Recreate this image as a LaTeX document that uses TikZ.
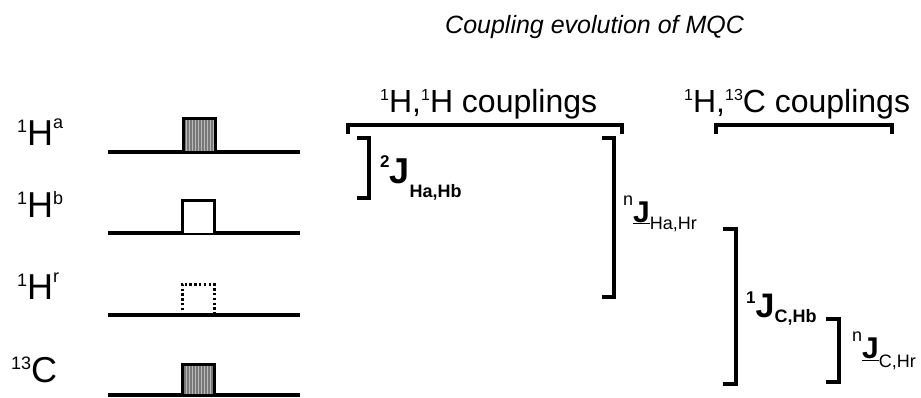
\documentclass[tikz,border=0pt]{standalone}
\usepackage{fontspec}
\usetikzlibrary{patterns}
\setmainfont{Liberation Sans}
% raised, reduced index (isotope numbers and spin labels)
\newcommand\upidx[2][0.36]{\raisebox{#1em}{\scalebox{0.5}{#2}}}
\definecolor{pulsegray}{RGB}{120,120,120}
\definecolor{stripegray}{RGB}{185,185,185}
\begin{document}
\begin{tikzpicture}[x=1pt,y=-1pt,
  staff/.style={line width=3.5pt},
  brk/.style={line width=3.5pt,line join=miter},
  pulse/.style={line width=3pt},
  spin/.style={anchor=base west,inner sep=0pt,font=\fontsize{36}{36}\selectfont},
  head/.style={anchor=base west,inner sep=0pt,font=\fontsize{32}{32}\selectfont},
  jlab/.style={anchor=base west,inner sep=0pt}]
\useasboundingbox (0,0) rectangle (921,397);

% title
\node[anchor=base west,inner sep=0pt,font=\fontsize{25}{25}\selectfont\itshape]
  (title) at (445,33) {Coupling evolution of MQC};

% spin labels
\node[spin] (la) at (17,145) {\upidx{1}H\upidx[0.46]{a}};
\node[spin] (lb) at (17,217) {\upidx{1}H\upidx{b}};
\node[spin] (lr) at (17,299) {\upidx{1}H\upidx[0.46]{r}};
\node[spin] (lc) at (11,382) {\upidx{13}C};

% channel lines
\draw[staff] (108,152) -- (300,152);
\draw[staff] (108,233) -- (300,233);
\draw[staff] (108,315) -- (300,315);
\draw[staff] (108,395) -- (300,395);

% pulses: shaded (a, C), open (b), dotted (r)
\fill[pulsegray] (183,152) rectangle (215,118);
\fill[pattern=vertical lines,pattern color=stripegray] (183,152) rectangle (215,118);
\draw[pulse] (183,152) rectangle (215,118);
\draw[pulse,fill=white] (182,233) -- (182,200) -- (214,200) -- (214,233);
\draw[line width=3pt,dash pattern=on 2.4pt off 2.4pt] (182,315) -- (182,284) -- (214,284) -- (214,315);
\fill[pulsegray] (182,395) rectangle (214,364);
\fill[pattern=vertical lines,pattern color=stripegray] (182,395) rectangle (214,364);
\draw[pulse] (182,395) rectangle (214,364);

% group headings
\node[head] (hh) at (380,112) {\upidx{1}H,\upidx{1}H couplings};
\node[head] (hc) at (684,112) {\upidx{1}H,\upidx{13}C couplings};
\draw[brk] (348,134) -- (348,125) -- (622,125) -- (622,134);
\draw[brk] (716,134) -- (716,125) -- (892,125) -- (892,134);

% coupling brackets
\draw[brk] (357,138) -- (369,138) -- (369,198) -- (357,198);
\draw[brk] (602,138) -- (614,138) -- (614,297) -- (602,297);
\draw[brk] (723,229) -- (736,229) -- (736,384) -- (723,384);
\draw[brk] (826,319) -- (839,319) -- (839,382) -- (826,382);

% coupling labels
\node[jlab] (j2) at (380,183) {\bfseries
  \raisebox{16pt}{\fontsize{17}{17}\selectfont 2}%
  {\fontsize{36}{36}\selectfont J}%
  \raisebox{-14pt}{\fontsize{18}{18}\selectfont Ha,Hb}};
\node[jlab] (jn1) at (623,222) {%
  \raisebox{17pt}{\fontsize{18}{18}\selectfont n}%
  {\fontsize{30}{30}\selectfont\bfseries\underline{J}}%
  \raisebox{-7pt}{\fontsize{18}{18}\selectfont Ha,Hr}};
\node[jlab] (j1) at (746,317) {\bfseries
  \raisebox{14pt}{\fontsize{17}{17}\selectfont 1}%
  {\fontsize{34}{34}\selectfont J}%
  \raisebox{-5pt}{\fontsize{18}{18}\selectfont C,Hb}};
\node[jlab] (jn2) at (852,358) {%
  \raisebox{17pt}{\fontsize{18}{18}\selectfont n}%
  {\fontsize{30}{30}\selectfont\bfseries\underline{J}}%
  \raisebox{-9pt}{\fontsize{18}{18}\selectfont C,Hr}};
\end{tikzpicture}
\end{document}
